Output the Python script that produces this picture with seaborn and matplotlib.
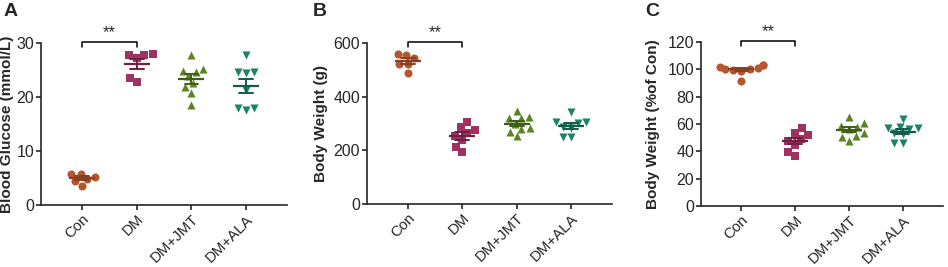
import numpy as np
import pandas as pd
import matplotlib
matplotlib.use("Agg")
import matplotlib.pyplot as plt
import seaborn as sns

groups = ["Con", "DM", "DM+JMT", "DM+ALA"]

# A: blood glucose (mmol/L)
glu_con = [5.8, 5.8, 5.2, 4.8, 4.5, 3.6]
glu_dm = [27.9, 27.7, 27.8, 27.2, 23.6, 22.8]
glu_jmt = [27.8, 24.9, 25.2, 24.6, 23.8, 21.8, 22.5, 20.8, 18.5]
glu_ala = [27.8, 24.7, 24.4, 24.7, 21.3, 17.9, 17.6, 17.9]

# B: body weight (g)
bw_con = [556, 558, 543, 522, 522, 487]
bw_dm = [307, 276, 286, 254, 264, 239, 211, 193]
bw_jmt = [348, 324, 320, 320, 279, 298, 282, 254, 270]
bw_ala = [344, 307, 300, 307, 288, 282, 249, 249]

# C: body weight (% of Con)
pct_con = [103.5, 103, 102, 101, 100.5, 100, 99.5, 99, 91.5]
pct_dm = [56.9, 53.7, 52.0, 49.0, 47.8, 44.6, 39.7, 36.6]
pct_jmt = [64.9, 61.0, 58.6, 56.6, 57.6, 53.2, 50.7, 51.2, 47.8]
pct_ala = [63.5, 56.1, 58.0, 56.9, 56.9, 52.5, 53.2, 46.3, 46.3]

colors = ["#B5562F", "#A03262", "#5C8424", "#1C8268"]
dark = ["#8A3F20", "#6E1F42", "#3F5E16", "#105C49"]
markers = ["o", "s", "^", "v"]

W, H = 948, 267


def make_df(*vals):
    rows = []
    for g, v in zip(groups, vals):
        for x in v:
            rows.append((g, x))
    return pd.DataFrame(rows, columns=["group", "value"])


# letter, data, ylabel, ylim, yticks, axes box px (left, top, right, bottom), ylabel right edge px, letter x px
panels = [
    ("A", make_df(glu_con, glu_dm, glu_jmt, glu_ala), "Blood Glucose (mmol/L)",
     (0, 30), [0, 10, 20, 30], (41, 43, 287, 205), 14, 4),
    ("B", make_df(bw_con, bw_dm, bw_jmt, bw_ala), "Body Weight (g)",
     (0, 600), [0, 200, 400, 600], (367, 43, 612, 204), 328, 313),
    ("C", make_df(pct_con, pct_dm, pct_jmt, pct_ala), "Body Weight (%of Con)",
     (0, 120), [0, 20, 40, 60, 80, 100, 120], (701, 42, 943, 206), 660, 645),
]

sns.set_style("ticks")
plt.rcParams["font.family"] = ["Liberation Sans", "DejaVu Sans"]

fig = plt.figure(figsize=(W / 100, H / 100), dpi=100)

for letter, df, ylabel, ylim, yticks, px, lab_x, let_x in panels:
    l, t, r, b = px
    ax = fig.add_axes([l / W, 1 - b / H, (r - l) / W, (b - t) / H])
    for i, g in enumerate(groups):
        sub = df[df["group"] == g]
        sns.swarmplot(data=sub, x="group", y="value", order=groups,
                      color=colors[i], marker=markers[i], size=5.8,
                      linewidth=0, ax=ax, zorder=2)
    sns.pointplot(data=df, x="group", y="value", order=groups, hue="group",
                  hue_order=groups, palette=dark, errorbar="se", capsize=0.25,
                  markers="_", markersize=19, markeredgewidth=1.6,
                  linestyle="none", err_kws={"linewidth": 1.4},
                  legend=False, ax=ax, zorder=3)
    ax.set_xlim(-0.75, 3.75)
    ax.set_ylim(*ylim)
    ax.set_yticks(yticks)
    ax.set_xlabel("")
    ax.set_ylabel(ylabel, fontsize=11, fontweight="bold")
    ax.yaxis.set_label_coords((lab_x - l) / (r - l), 0.5)
    ax.tick_params(axis="both", labelsize=11.5, length=3.5, width=1.2, pad=1.5)
    ax.set_xticks(range(4))
    ax.set_xticklabels(groups, rotation=45, ha="right", rotation_mode="anchor",
                       fontsize=10.8)
    for s in ["left", "bottom"]:
        ax.spines[s].set_linewidth(1.2)
    sns.despine(ax=ax)

    # significance bracket Con vs DM
    top = ylim[1]
    y0 = top * 0.977
    y1 = top * 1.008
    ax.plot([0, 0, 1, 1], [y0, y1, y1, y0], color="black", lw=1.1,
            clip_on=False)
    ax.text(0.5, y1 + top * 0.008, "**", ha="center", va="bottom",
            fontsize=12, clip_on=False)

    fig.text(let_x / W, 1 - 3 / H, letter, fontsize=14, fontweight="bold",
             ha="left", va="top")

fig.savefig("out.png", dpi=100)
